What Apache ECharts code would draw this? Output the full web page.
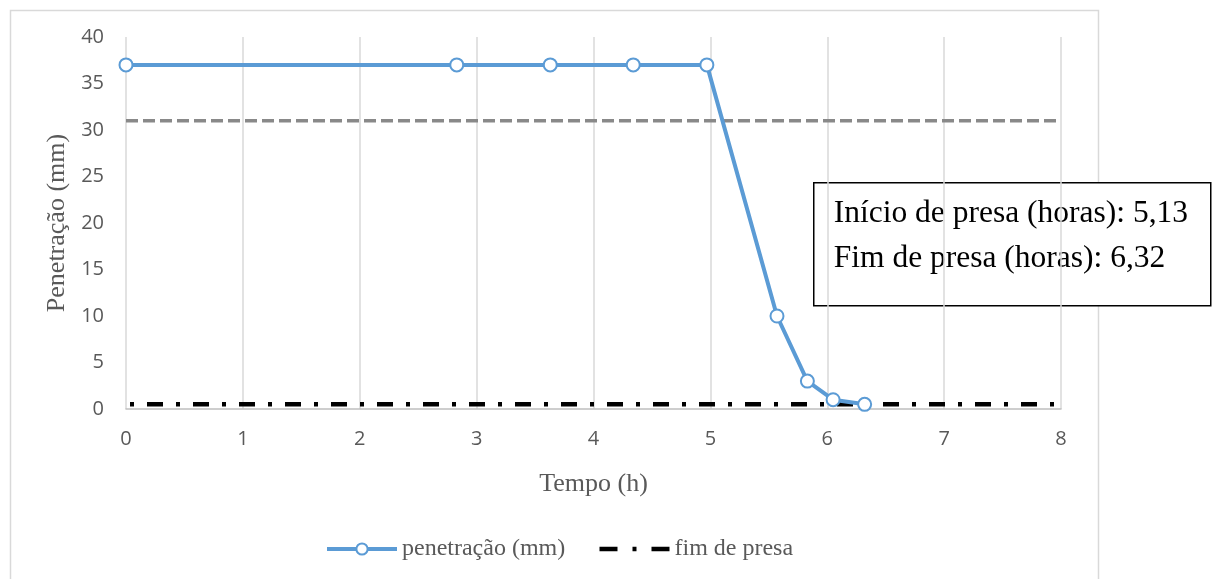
<!DOCTYPE html>
<html>
<head>
<meta charset="utf-8">
<script src="https://cdn.jsdelivr.net/npm/echarts@6/dist/echarts.min.js"></script>
<style>
  html, body { margin: 0; padding: 0; background: #fff; }
  #chart { width: 1216px; height: 579px; }
</style>
</head>
<body>
<div id="chart"></div>
<script>
// tempo (h) e penetração (mm)
const tempo = [0, 2.83, 3.63, 4.34, 4.97, 5.57, 5.83, 6.05, 6.32];
const penetracao = [37, 37, 37, 37, 37, 10, 3, 1, 0.5];
// linhas de referência
const inicioPresa = 31;
const fimPresa = 0.5;
const xRange = [0, 8];
const yTicks = [0, 5, 10, 15, 20, 25, 30, 35, 40];

const serif = '"Liberation Serif", "DejaVu Serif", serif';
const sans = '"Open Sans", "Liberation Sans", sans-serif';

const chart = echarts.init(document.getElementById('chart'));

const option = {
    animation: false,
    grid: { left: 126, right: 155, top: 37, bottom: 170 },
    legend: {
        top: 532,
        left: 320,
        itemWidth: 70,
        itemHeight: 14,
        itemGap: 32,
        textStyle: { fontFamily: serif, fontSize: 24, color: '#595959' },
        data: [
            { name: 'penetração (mm)', lineStyle: { width: 4 } },
            {
                name: 'fim de presa',
                itemStyle: { color: 'rgba(0,0,0,0)', borderWidth: 0 },
                lineStyle: { width: 4.5, type: [18, 15, 4, 15], dashOffset: 0 }
            }
        ]
    },
    xAxis: {
        type: 'value',
        min: xRange[0],
        max: xRange[1],
        interval: 1,
        name: 'Tempo (h)',
        nameLocation: 'middle',
        nameGap: 62,
        nameTextStyle: { fontFamily: serif, fontSize: 26, color: '#595959' },
        axisLine: { show: true, lineStyle: { color: '#bfbfbf', width: 1.5 } },
        axisTick: { show: false },
        axisLabel: { fontFamily: sans, fontSize: 20, color: '#595959', margin: 20 },
        splitLine: { show: true, lineStyle: { color: '#d9d9d9', width: 1.5 } }
    },
    yAxis: {
        type: 'value',
        min: yTicks[0],
        max: yTicks[yTicks.length - 1],
        interval: 5,
        name: 'Penetração (mm)',
        nameLocation: 'middle',
        nameGap: 52,
        nameTextStyle: { fontFamily: serif, fontSize: 26, color: '#595959' },
        axisLine: { show: false },
        axisTick: { show: false },
        axisLabel: { fontFamily: sans, fontSize: 20, color: '#595959', margin: 22 },
        splitLine: { show: false }
    },
    series: [
        {
            name: 'início de presa',
            type: 'line',
            data: xRange.map(x => [x, inicioPresa]),
            symbol: 'none',
            lineStyle: { color: '#898989', width: 3.5, type: [12, 5] },
            z: 2
        },
        {
            name: 'fim de presa',
            type: 'line',
            data: xRange.map(x => [x, fimPresa]),
            symbol: 'none',
            lineStyle: { color: '#000', width: 4.5, type: [16, 13, 4, 13], dashOffset: 25 },
            itemStyle: { color: '#000' },
            z: 2
        },
        {
            name: 'penetração (mm)',
            type: 'line',
            data: tempo.map((t, i) => [t, penetracao[i]]),
            symbol: 'emptyCircle',
            symbolSize: 13,
            lineStyle: { color: '#5b9bd5', width: 4 },
            itemStyle: { color: '#5b9bd5', borderWidth: 2.2 },
            z: 3
        }
    ],
    graphic: [
        {
            type: 'rect',
            left: 8, top: 8,
            shape: { width: 1088, height: 600 },
            style: { fill: 'none', stroke: '#d9d9d9', lineWidth: 1.5 },
            silent: true,
            z: -1
        },
        {
            type: 'group',
            left: 813, top: 182,
            children: [
                {
                    type: 'rect',
                    shape: { width: 397, height: 123 },
                    style: { fill: '#fff', stroke: '#000', lineWidth: 1.5 }
                },
                {
                    type: 'text',
                    style: { x: 20, y: 31, text: 'Início de presa (horas): 5,13', font: '31.5px ' + serif, fill: '#000', verticalAlign: 'middle' }
                },
                {
                    type: 'text',
                    style: { x: 20, y: 76, text: 'Fim de presa (horas): 6,32', font: '31.5px ' + serif, fill: '#000', verticalAlign: 'middle' }
                }
            ],
            z: 10
        }
    ]
};

chart.setOption(option);
</script>
</body>
</html>
